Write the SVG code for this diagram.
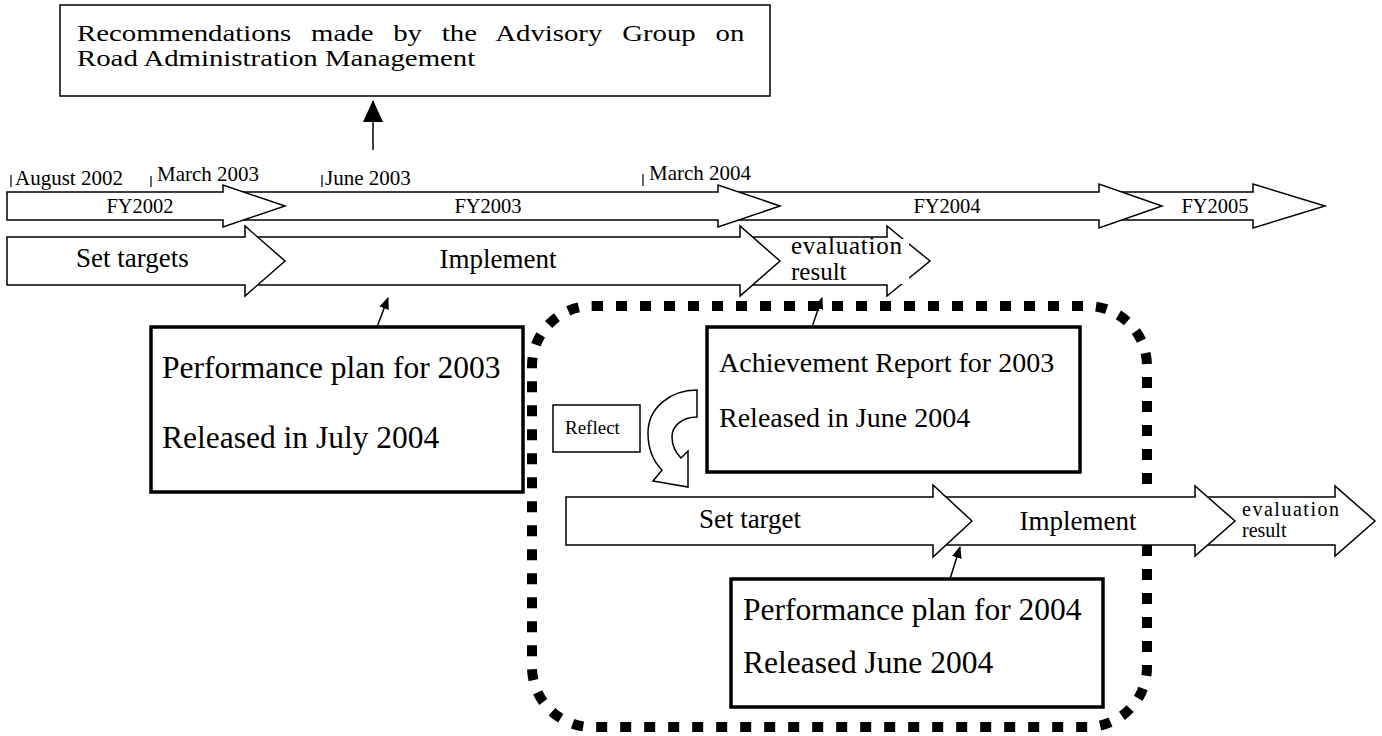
<svg xmlns="http://www.w3.org/2000/svg" width="1382" height="736" viewBox="0 0 1382 736">
<style>
text{font-family:"Liberation Serif","Times New Roman",serif;fill:#000}
.blk{fill:#fff;stroke:#000;stroke-width:1.5;stroke-linejoin:miter}
.box{fill:#fff;stroke:#000;stroke-width:1.5}
.thick{fill:#fff;stroke:#000;stroke-width:3.5}
.tick{stroke:#000;stroke-width:1.2}
.con{stroke:#000;stroke-width:1.5;fill:none}
.t20{font-size:20.5px}
.t21{font-size:21px}
.t24{font-size:24px}
.t27{font-size:27px}
.t28{font-size:28px}
.t31{font-size:31.5px}
</style>
<defs>
<marker id="ahBig" markerUnits="userSpaceOnUse" markerWidth="22" markerHeight="24" refX="21" refY="10" orient="auto">
<path d="M0,0 L22,10 L0,20 Z" fill="#000"/>
</marker>
<marker id="ahSmall" markerUnits="userSpaceOnUse" markerWidth="12" markerHeight="12" refX="11" refY="5" orient="auto">
<path d="M0,0 L12,5 L0,10 Z" fill="#000"/>
</marker>
</defs>

<g id="recommendations">
<rect class="box" x="60" y="5" width="710" height="91"/>
<g transform="translate(77,0) scale(1.2,1)">
<text class="t24" x="0" y="41" word-spacing="10.5">Recommendations made by the Advisory Group on</text>
<text class="t24" x="0" y="66">Road Administration Management</text>
</g>
</g>

<g id="dates">
<line class="tick" x1="11" y1="175" x2="11" y2="187"/>
<text class="t21" x="15" y="185">August 2002</text>
<line class="tick" x1="151" y1="176" x2="151" y2="187"/>
<text class="t21" x="157" y="181">March 2003</text>
<line class="tick" x1="322" y1="175" x2="322" y2="187"/>
<text class="t21" x="325" y="185">June 2003</text>
<line class="tick" x1="643" y1="174" x2="643" y2="186"/>
<text class="t21" x="649" y="180">March 2004</text>
</g>

<g id="fy2005">
<path class="blk" d="M1110,192 H1253 V184 L1325,206 L1253,228 V220 H1110 Z"/>
<text class="t20" x="1215" y="213" text-anchor="middle">FY2005</text>
</g>
<g id="fy2004">
<path class="blk" d="M730,192 H1099 V184 L1162,206 L1099,228 V220 H730 Z"/>
<text class="t20" x="947" y="213" text-anchor="middle">FY2004</text>
</g>
<g id="fy2003">
<path class="blk" d="M235,192 H718 V185 L780,206 L718,227 V220 H235 Z"/>
<text class="t20" x="488" y="213" text-anchor="middle">FY2003</text>
</g>
<g id="fy2002">
<path class="blk" d="M7,192 H223 V185 L285,206 L223,227 V220 H7 Z"/>
<text class="t20" x="140" y="213" text-anchor="middle">FY2002</text>
</g>

<g id="evaluation1">
<path class="blk" d="M750,237 H887 V226 L930,261 L887,296 V285 H750 Z"/>
</g>
<g id="implement1">
<path class="blk" d="M255,237 H740 V226 L780,261 L740,296 V285 H255 Z"/>
<text class="t27" x="498" y="268" text-anchor="middle">Implement</text>
</g>
<g id="settargets1">
<path class="blk" d="M7,237 H245 V226 L285,261 L245,296 V285 H7 Z"/>
<text class="t27" x="76" y="267">Set targets</text>
</g>
<g id="evaluation1-label">
<rect x="787" y="239" width="122" height="45" fill="#fff"/>
<text x="791" y="254" style="font-size:25px" textLength="111">evaluation</text>
<text x="791" y="280" style="font-size:25px">result</text>
</g>

<g id="plan2003">
<rect class="thick" x="151" y="327" width="372" height="165"/>
<text class="t31" x="162" y="378">Performance plan for 2003</text>
<text class="t31" x="162" y="448">Released in July 2004</text>
</g>

<g id="cycle">
<rect x="532" y="306" width="615" height="421" rx="60" ry="60" fill="none" stroke="#000" stroke-width="10" stroke-dasharray="11 13"/>
</g>

<g id="achievement2003">
<rect class="thick" x="707" y="327" width="373" height="145" stroke-width="3"/>
<text class="t28" x="719" y="372">Achievement Report for 2003</text>
<text class="t28" x="719" y="427">Released in June 2004</text>
</g>

<g id="reflect">
<rect class="box" x="553" y="405" width="87" height="47"/>
<text x="565" y="434" style="font-size:19px">Reflect</text>
</g>

<g id="reflect-arrow">
<path class="blk" d="M697,390 C670,390 648,408 648,433 C648,450 654,462 662,470 L653,481 L688,487 L688,451 L681,458 C675,452 672,445 672,437 C672,426 682,417 697,417 Z"/>
</g>

<g id="evaluation2">
<path class="blk" d="M1205,497 H1335 V486 L1375,521 L1335,556 V545 H1205 Z"/>
<text x="1242" y="516" style="font-size:20px" textLength="97">evaluation</text>
<text x="1242" y="537" style="font-size:20px">result</text>
</g>
<g id="implement2">
<path class="blk" d="M943,497 H1195 V486 L1235,521 L1195,556 V545 H943 Z"/>
<text class="t27" x="1078" y="530" text-anchor="middle">Implement</text>
</g>
<g id="settarget2">
<path class="blk" d="M566,497 H933 V485 L972,521 L933,557 V545 H566 Z"/>
<text class="t27" x="750" y="528" text-anchor="middle">Set target</text>
</g>

<g id="plan2004">
<rect class="thick" x="731" y="579" width="372" height="128"/>
<text class="t31" x="743" y="620">Performance plan for 2004</text>
<text class="t31" x="743" y="673">Released June 2004</text>
</g>

<g id="connectors">
<line class="con" x1="373" y1="150" x2="373" y2="101" marker-end="url(#ahBig)"/>
<line class="con" x1="377" y1="327" x2="388" y2="298" marker-end="url(#ahSmall)"/>
<line class="con" x1="812" y1="327" x2="822" y2="298" marker-end="url(#ahSmall)"/>
<line class="con" x1="950" y1="579" x2="960" y2="547" marker-end="url(#ahSmall)"/>
</g>
</svg>
